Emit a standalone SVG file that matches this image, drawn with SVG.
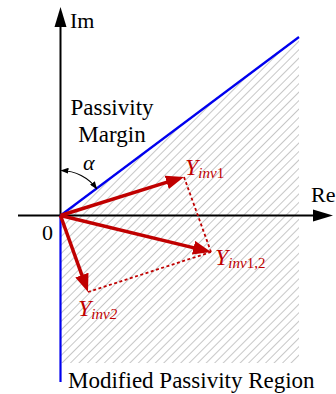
<svg xmlns="http://www.w3.org/2000/svg" width="336" height="394" viewBox="0 0 336 394">
<style>
text{font-family:'Liberation Serif','Times New Roman',serif}
.lbl{font-size:22px;fill:#000}
.big{font-size:23px;fill:#000}
.red{fill:#c00000;font-style:italic;font-size:24px}
.sub{font-size:15px}
.vec{stroke:#c00000;stroke-width:3.5;fill:none}
.dot{stroke:#c00000;stroke-width:1.8;stroke-dasharray:3,2.5;fill:none}
.ax{stroke:#000;stroke-width:2;fill:none}
</style>
<defs>
<pattern id="hatch" width="6" height="6" patternUnits="userSpaceOnUse" patternTransform="rotate(45)">
<line x1="0" y1="0" x2="0" y2="6" stroke="#a8a8a8" stroke-width="1.3"/>
</pattern>
<marker id="ra" viewBox="0 0 18 14" refX="8" refY="7" markerWidth="18" markerHeight="14" markerUnits="userSpaceOnUse" orient="auto">
<path d="M0,0 L18,7 L0,14 z" fill="#c00000"/>
</marker>
<marker id="sa" viewBox="0 0 8 6" refX="7" refY="3" markerWidth="8" markerHeight="6" markerUnits="userSpaceOnUse" orient="auto-start-reverse">
<path d="M0,0 L8,3 L0,6 z" fill="#000"/>
</marker>
</defs>
<g id="region">
<polygon points="60.5,215.5 299,37 299,363 60.5,363" fill="url(#hatch)"/>
</g>
<g id="axes">
<line class="ax" x1="18" y1="215.5" x2="315" y2="215.5"/>
<polygon points="313,209.5 333,215.5 313,221.5" fill="#000"/>
<line class="ax" x1="60.5" y1="215.5" x2="60.5" y2="25"/>
<polygon points="54.5,27 60.5,7 66.5,27" fill="#000"/>
<text class="lbl" x="70" y="28">Im</text>
<text class="lbl" x="311" y="202">Re</text>
<text class="lbl" x="42" y="240">0</text>
</g>
<g id="boundary">
<line x1="60.5" y1="215.5" x2="299" y2="37" stroke="#0000ee" stroke-width="2.2"/>
<line x1="60.5" y1="215.5" x2="60.5" y2="382" stroke="#0000ee" stroke-width="2.2"/>
</g>
<g id="margin">
<text class="big" x="112" y="115" text-anchor="middle">Passivity</text>
<text class="big" x="112" y="142" text-anchor="middle">Margin</text>
<path d="M61.5,170.5 A45,45 0 0,1 96.6,188.6" fill="none" stroke="#000" stroke-width="1.2" marker-start="url(#sa)" marker-end="url(#sa)"/>
<text class="lbl" x="83" y="170" font-style="italic">α</text>
</g>
<g id="connectors">
<line class="vec" x1="60.5" y1="215.5" x2="174.4" y2="179.9" marker-end="url(#ra)"/>
<line class="vec" x1="60.5" y1="215.5" x2="201.3" y2="249.6" marker-end="url(#ra)"/>
<line class="vec" x1="60.5" y1="215.5" x2="84.6" y2="282.6" marker-end="url(#ra)"/>
<line class="dot" x1="184" y1="177" x2="211" y2="252"/>
<line class="dot" x1="88" y1="292" x2="211" y2="252"/>
</g>
<g id="yinv1">
<text class="red" x="185" y="175">Y<tspan class="sub" dy="3">inv</tspan><tspan class="sub" font-style="normal">1</tspan></text>
</g>
<g id="yinv12">
<text class="red" x="215" y="265">Y<tspan class="sub" dy="3">inv</tspan><tspan class="sub" font-style="normal">1,2</tspan></text>
</g>
<g id="yinv2">
<text class="red" x="78" y="316">Y<tspan class="sub" dy="3">inv2</tspan></text>
</g>
<g id="caption">
<text class="big" x="68" y="388">Modified Passivity Region</text>
</g>
</svg>
